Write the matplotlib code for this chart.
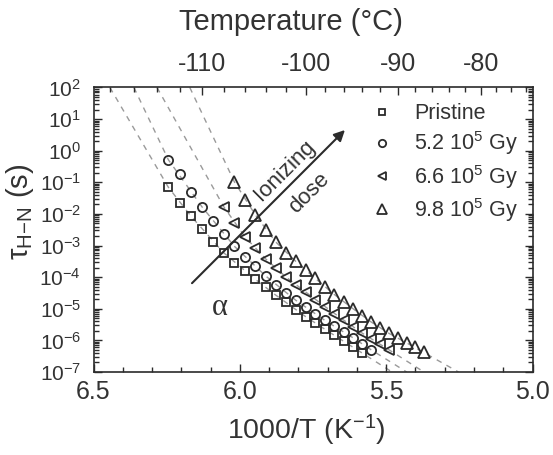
import numpy as np
import matplotlib
matplotlib.use('Agg')
import matplotlib.pyplot as plt
from matplotlib.ticker import LogLocator, MultipleLocator, FixedLocator, NullFormatter, FixedFormatter
from matplotlib.lines import Line2D

plt.rcParams['font.family'] = ['Liberation Sans', 'DejaVu Sans']
plt.rcParams['mathtext.fontset'] = 'custom'
plt.rcParams['mathtext.rm'] = 'Liberation Sans'
plt.rcParams['mathtext.it'] = 'Liberation Sans:italic'
plt.rcParams['mathtext.default'] = 'regular'
plt.rcParams['axes.unicode_minus'] = False

# ---------------- data (temperatures in degC, log10 of tau in s) ----------------
T_pristine = [-113, -112, -111, -110, -109, -108, -107, -106, -105, -104,
              -103, -102, -101, -100, -99, -98, -97, -96, -95, -94]
logtau_pristine = [-1.16, -1.65, -2.07, -2.49, -2.88, -3.23, -3.54, -3.80, -4.07, -4.30,
                   -4.57, -4.80, -5.03, -5.25, -5.45, -5.65, -5.84, -6.03, -6.22, -6.40]

T_52 = [-113, -112, -111, -110, -109, -108, -107, -106, -105, -104, -103,
        -102, -101, -100, -99, -98, -97, -96, -95, -94, -93]
logtau_52 = [-0.29, -0.74, -1.30, -1.78, -2.23, -2.64, -3.02, -3.35, -3.66, -3.96, -4.24,
             -4.49, -4.73, -4.95, -5.17, -5.37, -5.56, -5.74, -5.92, -6.10, -6.30]

T_66 = [-108, -107, -106, -105, -104, -103, -102, -101, -100,
        -99, -98, -97, -96, -95, -94, -93, -92, -91]
logtau_66 = [-1.77, -2.30, -2.72, -3.09, -3.42, -3.72, -3.99, -4.25, -4.47,
             -4.71, -4.93, -5.15, -5.36, -5.57, -5.77, -5.95, -6.12, -6.30]

T_98 = [-107, -106, -105, -104, -103, -102, -101, -100, -99, -98, -97,
        -96, -95, -94, -93, -92, -91, -90, -89, -88, -87]
logtau_98 = [-0.98, -1.56, -2.03, -2.50, -2.89, -3.22, -3.50, -3.77, -4.04, -4.30, -4.55,
             -4.78, -5.00, -5.22, -5.42, -5.60, -5.78, -5.93, -6.08, -6.22, -6.38]

# dashed fit curves (1000/T, log10 tau)
fit_pristine_x = [6.444, 6.244, 6.167, 6.055, 5.947, 5.877, 5.775, 5.709, 5.645, 5.582, 5.480]
fit_pristine_y = [2.0, -1.16, -2.07, -3.23, -4.07, -4.57, -5.25, -5.65, -6.03, -6.40, -7.0]
fit_52_x = [6.362, 6.244, 6.129, 6.019, 5.912, 5.809, 5.709, 5.613, 5.551, 5.430]
fit_52_y = [2.0, -0.29, -1.78, -3.02, -3.96, -4.73, -5.37, -5.92, -6.30, -7.0]
fit_66_x = [6.283, 6.055, 5.983, 5.912, 5.843, 5.775, 5.709, 5.645, 5.582, 5.490, 5.371]
fit_66_y = [2.0, -1.77, -2.72, -3.42, -3.99, -4.47, -4.93, -5.36, -5.77, -6.30, -7.0]
fit_98_x = [6.171, 6.019, 5.947, 5.877, 5.809, 5.742, 5.677, 5.613, 5.551, 5.490, 5.430, 5.372, 5.253]
fit_98_y = [2.0, -0.98, -2.03, -2.89, -3.50, -4.04, -4.55, -5.00, -5.42, -5.78, -6.08, -6.38, -7.0]

labels = ['Pristine', '5.2 10$^{5}$ Gy', '6.6 10$^{5}$ Gy', '9.8 10$^{5}$ Gy']
markers = ['s', 'o', '<', '^']
msizes = [6.2, 6.6, 7.6, 8.4]

top_major_C = [-110, -100, -90, -80]
top_minor_C = [-118, -116, -114, -112, -108, -106, -104, -102, -98, -96, -94, -92,
               -88, -86, -84, -82, -78, -76, -74]
bottom_ticks = [6.5, 6.0, 5.5, 5.0]

arrow_start = (6.1635, -4.19)
arrow_end = (5.641, 0.655)


def c_to_inv(t):
    return 1000.0 / (np.asarray(t, dtype=float) + 273.15)


dark = '#2b2b2b'
gray = '#9a9a9a'

fig = plt.figure(figsize=(5.53, 4.55), dpi=100)
ax = fig.add_axes([0.1691, 0.1824, 0.7939, 0.6253])

fits = [(fit_pristine_x, fit_pristine_y), (fit_52_x, fit_52_y),
        (fit_66_x, fit_66_y), (fit_98_x, fit_98_y)]
for fx, fy in fits:
    ax.plot(fx, 10.0 ** np.array(fy), ls=(0, (4, 4)), color=gray, lw=1.0, zorder=1)

series = [(T_pristine, logtau_pristine), (T_52, logtau_52), (T_66, logtau_66), (T_98, logtau_98)]
for (T, lt), m, ms in zip(series, markers, msizes):
    ax.plot(c_to_inv(T), 10.0 ** np.array(lt), ls='none', marker=m, ms=ms,
            mfc='none', mec=dark, mew=1.3, zorder=3)

ax.set_xscale('linear')
ax.set_yscale('log')
ax.set_xlim(6.5, 5.0)
ax.set_ylim(1e-7, 1e2)

ax.xaxis.set_major_locator(FixedLocator(bottom_ticks))
ax.xaxis.set_major_formatter(FixedFormatter(['%.1f' % v for v in bottom_ticks]))
ax.xaxis.set_minor_locator(MultipleLocator(0.1))
ax.yaxis.set_major_locator(LogLocator(base=10, numticks=20))
ax.yaxis.set_minor_locator(LogLocator(base=10, subs=np.arange(2, 10), numticks=20))
ax.yaxis.set_minor_formatter(NullFormatter())

ax.tick_params(which='both', direction='in', top=False, right=True, colors=dark, width=1.0)
ax.tick_params(which='major', length=6)
ax.tick_params(which='minor', length=3.5)
ax.tick_params(axis='x', labelsize=18, pad=6)
ax.tick_params(axis='y', labelsize=15, pad=9)
for lab in ax.get_xticklabels() + ax.get_yticklabels():
    lab.set_color('#333333')
for s in ax.spines.values():
    s.set_color(dark)
    s.set_linewidth(1.2)

# top temperature axis
ax2 = ax.twiny()
ax2.set_xlim(ax.get_xlim())
ax2.xaxis.set_major_locator(FixedLocator(c_to_inv(top_major_C)))
ax2.xaxis.set_major_formatter(FixedFormatter([str(t) for t in top_major_C]))
ax2.xaxis.set_minor_locator(FixedLocator(c_to_inv(top_minor_C)))
ax2.tick_params(which='both', direction='in', colors=dark, width=1.0)
ax2.tick_params(which='major', length=6, labelsize=18, pad=8)
ax2.tick_params(which='minor', length=3.5)
for lab in ax2.get_xticklabels():
    lab.set_color('#333333')
for s in ax2.spines.values():
    s.set_visible(False)

# arrow and annotations
ax.annotate('', xy=(arrow_end[0], 10 ** arrow_end[1]),
            xytext=(arrow_start[0], 10 ** arrow_start[1]),
            arrowprops=dict(arrowstyle='-|>', color=dark, lw=1.5, mutation_scale=16,
                            shrinkA=0, shrinkB=0), zorder=4)
ax.text(5.846, 10 ** -0.61, 'Ionizing', rotation=45, rotation_mode='anchor',
        ha='center', va='center', fontsize=16, color='#333333')
ax.text(5.763, 10 ** -1.34, 'dose', rotation=45, rotation_mode='anchor',
        ha='center', va='center', fontsize=16, color='#333333')
ax.text(6.068, 10 ** -4.95, '\u03b1', ha='center', va='center', fontsize=22,
        family=['Liberation Serif', 'DejaVu Serif'], color='#333333')

# legend
handles = [Line2D([], [], ls='none', marker=m, ms=ms * 0.8, mfc='none', mec=dark, mew=1.3)
           for m, ms in zip(markers, msizes)]
leg = ax.legend(handles, labels, loc='upper left', bbox_to_anchor=(0.632, 0.945),
                frameon=False, fontsize=15.5, handlelength=1.0, handletextpad=1.0,
                labelspacing=0.25, borderpad=0, borderaxespad=0)
for t in leg.get_texts():
    t.set_color('#333333')

# axis labels
fig.text(306 / 553, 1 - 430 / 455, '1000/T (K$^{-1}$)', ha='center', va='center',
         fontsize=20.5, color='#333333')
fig.text(291 / 553, 1 - 22 / 455, 'Temperature (\u00b0C)', ha='center', va='center',
         fontsize=21, color='#333333')
fig.text(20 / 553, 1 - 212 / 455, r'$\tau_{H{-}N}$ (s)', ha='center', va='center',
         rotation=90, fontsize=21, color='#333333')

fig.savefig('out.png', dpi=100)
